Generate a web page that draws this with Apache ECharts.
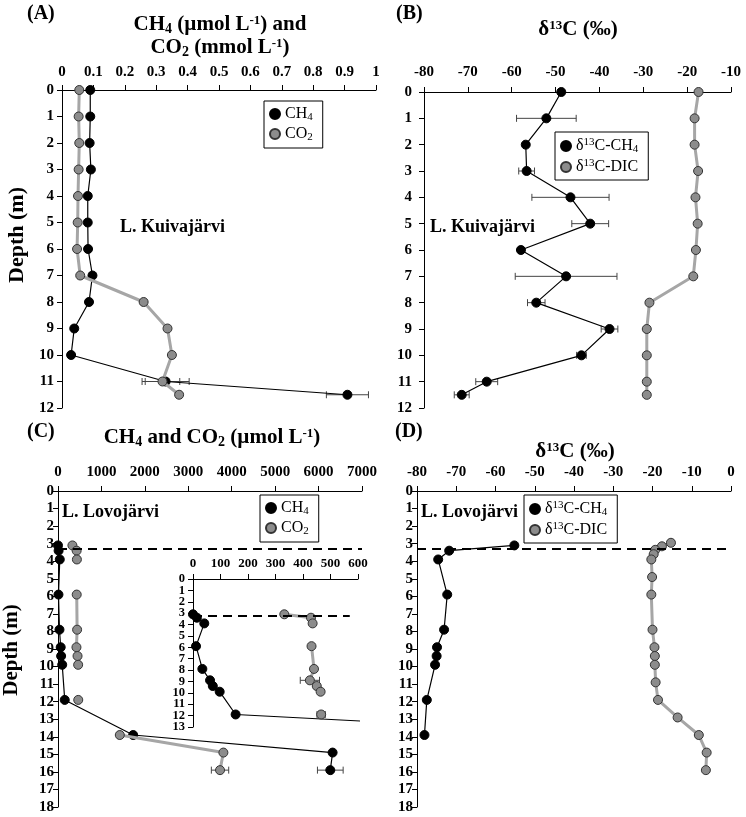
<!DOCTYPE html>
<html><head><meta charset="utf-8">
<script src="https://cdn.jsdelivr.net/npm/echarts@6/dist/echarts.min.js"></script>
<style>html,body{margin:0;padding:0;background:#fff}#c{width:746px;height:817px}</style>
</head><body><div id="c"></div>
<script>
// ---------- DATA ----------
// Panel A / B : L. Kuivajärvi
const depthK = [0,1,2,3,4,5,6,7,8,9,10,11,11.5];
const kCH4 = [0.09,0.09,0.088,0.092,0.082,0.082,0.083,0.097,0.086,0.039,0.029,0.33,0.909];
const kCH4err = [0,0,0,0,0,0.008,0,0,0,0,0,0.075,0.067];
const kCO2 = [0.055,0.053,0.055,0.053,0.051,0.05,0.048,0.058,0.26,0.336,0.35,0.32,0.373];
const kCO2err = [0,0,0,0,0,0,0,0,0,0,0,0.055,0];
const kD13CH4 = [-48.7,-52.1,-56.8,-56.6,-46.6,-42.1,-57.9,-47.6,-54.4,-37.7,-44.1,-65.7,-71.4];
const kD13CH4err = [0,6.8,0,1.8,8.8,4.2,0,11.6,2,1.9,1.1,2.5,1.7];
const kD13DIC = [-17.4,-18.3,-18.3,-17.5,-18.1,-17.6,-18.0,-18.6,-28.6,-29.2,-29.2,-29.2,-29.2];
// Panel C / D : L. Lovojärvi
const depthL = [3.1,3.4,3.9,5.9,7.9,8.9,9.4,9.9,11.9,13.9,14.9,15.9];
const lCH4 = [0,14,41,11,34,62,72,97,155,1731,6323,6270];
const lCH4err = [0,0,0,0,0,0,0,0,0,0,0,296];
const lCO2 = [332,429,435,431,440,425,450,464,466,1423,3808,3731];
const lCO2err = [0,0,0,0,0,35,0,0,15,0,0,200];
const lCO2breaks = [3,8,9];
const depthLD13CH4 = [3.1,3.4,3.9,5.9,7.9,8.9,9.4,9.9,11.9,13.9];
const lD13CH4 = [-55.2,-71.8,-74.6,-72.3,-73.1,-74.9,-75.0,-75.4,-77.5,-78.1];
const depthLDIC = [2.95,3.15,3.35,3.6,3.9,4.9,5.9,7.9,8.9,9.4,9.9,10.9,11.9,12.9,13.9,14.9,15.9];
const lD13DIC = [-15.3,-17.6,-19.3,-19.7,-20.3,-20.1,-20.3,-20.0,-19.5,-19.4,-19.4,-19.2,-18.6,-13.6,-8.2,-6.2,-6.4];
const oxicDepth = 3.3;
const insetOxicDepth = 3.25;
const insetOxicEnd = 570;
// inset depth tick labels
const insetDepthTicks = [0,1,2,3,4,5,6,7,8,9,10,11,12,13];

// ---------- HELPERS ----------
const FONT = '"Liberation Serif", "Times New Roman", serif';
const plain = v => String(Math.round(v * 1000) / 1000);
function pts(xs, ys, breaks) {
  const out = [];
  xs.forEach((x, i) => { if (breaks && breaks.includes(i)) out.push(['-','-']); out.push([x, ys[i]]); });
  return out;
}
function errs(vals, depths, e) {
  return vals.map((v, i) => [v, depths[i], e[i]]).filter(d => d[2] > 0);
}
function xAxis(g, min, max, interval, margin, fs) {
  return { gridIndex: g, type: 'value', position: 'top', min, max, interval,
    axisLine: { show: true, onZero: false, lineStyle: { color: '#000', width: 1 } },
    axisTick: { show: true, length: 5, lineStyle: { color: '#000' } },
    splitLine: { show: false },
    axisLabel: { margin, showMinLabel: true, showMaxLabel: true, hideOverlap: false, formatter: plain,
      color: '#000', fontFamily: FONT, fontWeight: 'bold', fontSize: fs || 15 } };
}
function yAxis(g, max, margin, fs, hideLabels) {
  return { gridIndex: g, type: 'value', inverse: true, min: 0, max, interval: 1,
    axisLine: { show: true, onZero: false, lineStyle: { color: '#000', width: 1 } },
    axisTick: { show: true, length: 5, lineStyle: { color: '#000' } },
    splitLine: { show: false },
    axisLabel: { show: !hideLabels, margin, showMinLabel: true, showMaxLabel: true, hideOverlap: false, formatter: plain,
      color: '#000', fontFamily: FONT, fontWeight: 'bold', fontSize: fs || 15 } };
}
function blackLine(name, ax, data, extra) {
  return Object.assign({ name, type: 'line', xAxisIndex: ax, yAxisIndex: ax, data, z: 3,
    symbol: 'circle', symbolSize: 9, showSymbol: true, connectNulls: false,
    itemStyle: { color: '#000', borderColor: '#000', borderWidth: 1 },
    lineStyle: { color: '#000', width: 1.2 } }, extra || {});
}
function grayLine(name, ax, data, extra) {
  return Object.assign({ name, type: 'line', xAxisIndex: ax, yAxisIndex: ax, data, z: 4,
    symbol: 'circle', symbolSize: 9, showSymbol: true, connectNulls: false,
    itemStyle: { color: '#8c8c8c', borderColor: '#333', borderWidth: 1 },
    lineStyle: { color: '#a6a6a6', width: 3 } }, extra || {});
}
function errSeries(ax, data) {
  return { type: 'custom', xAxisIndex: ax, yAxisIndex: ax, data, z: 2, silent: true,
    encode: { x: 0, y: 1 },
    renderItem: function (params, api) {
      const v = api.value(0), d = api.value(1), e = api.value(2);
      const p1 = api.coord([v - e, d]), p2 = api.coord([v + e, d]);
      const h = 3.5, st = { stroke: '#444', lineWidth: 1 };
      return { type: 'group', children: [
        { type: 'line', shape: { x1: p1[0], y1: p1[1], x2: p2[0], y2: p2[1] }, style: st },
        { type: 'line', shape: { x1: p1[0], y1: p1[1] - h, x2: p1[0], y2: p1[1] + h }, style: st },
        { type: 'line', shape: { x1: p2[0], y1: p2[1] - h, x2: p2[0], y2: p2[1] + h }, style: st }
      ] };
    } };
}
// axis tick labels for the inset depth axis (drawn via the axis scale, so none get auto-hidden)
function tickLabelSeries(ax, ticks) {
  return { type: 'custom', xAxisIndex: ax, yAxisIndex: ax, data: ticks.map(t => [0, t]), z: 5, silent: true,
    clip: false, encode: { x: 0, y: 1 },
    renderItem: function (params, api) {
      const p = api.coord([0, api.value(1)]);
      return { type: 'text', x: p[0] - 8, y: p[1],
        style: { text: String(api.value(1)), fill: '#000', font: 'bold 12.5px ' + FONT,
          textAlign: 'right', align: 'right', textVerticalAlign: 'middle', verticalAlign: 'middle' } };
    } };
}
const dash = { silent: true, symbol: 'none', label: { show: false },
  lineStyle: { type: [9, 6], color: '#000', width: 2 } };

const legendNames = {
  A_CH4: 'CH{s|4}', A_CO2: 'CO{s|2}', C_CH4: 'CH{s|4}', C_CO2: 'CO{s|2}',
  B_CH4: 'δ{p|13}C-CH{s|4}', B_DIC: 'δ{p|13}C-DIC', D_CH4: 'δ{p|13}C-CH{s|4}', D_DIC: 'δ{p|13}C-DIC'
};
function legend(names, left, top) {
  return { data: names, left, top, orient: 'vertical', icon: 'circle', itemWidth: 10, itemHeight: 10,
    itemGap: 3, padding: [5, 10, 5, 5], borderColor: '#000', borderWidth: 1, backgroundColor: '#fff',
    selectedMode: false, formatter: n => legendNames[n],
    textStyle: { color: '#000', fontFamily: FONT, fontSize: 16,
      rich: { s: { fontFamily: FONT, fontSize: 11, color: '#000', padding: [7, 0, 0, 0] },
              p: { fontFamily: FONT, fontSize: 11, color: '#000', padding: [0, 0, 7, 0] } } } };
}
const richT = { s: { fontFamily: FONT, fontWeight: 'bold', fontSize: 14, fill: '#000', padding: [9, 0, 0, 0] },
                p: { fontFamily: FONT, fontWeight: 'bold', fontSize: 13, fill: '#000', padding: [0, 0, 9, 0] } };
function txt(text, x, y, size, align, rot) {
  return { type: 'text', x, y, rotation: rot || 0, z: 10,
    style: { text, fill: '#000', font: 'bold ' + size + 'px ' + FONT, rich: richT,
      textAlign: align || 'left', align: align || 'left', textVerticalAlign: 'middle', verticalAlign: 'middle' } };
}

// ---------- CHART ----------
const chart = echarts.init(document.getElementById('c'), null, { renderer: 'canvas' });
chart.setOption({
  animation: false,
  backgroundColor: '#fff',
  grid: [
    { left: 62, top: 90, width: 314, height: 318, outerBoundsMode: 'none' },
    { left: 424, top: 92, width: 307, height: 316, outerBoundsMode: 'none' },
    { left: 58, top: 491, width: 304, height: 316, outerBoundsMode: 'none' },
    { left: 417, top: 491, width: 314, height: 316, outerBoundsMode: 'none' },
    { left: 193, top: 579, width: 165, height: 148, outerBoundsMode: 'none' }
  ],
  xAxis: [
    xAxis(0, 0, 1, 0.1, 10),
    xAxis(1, -80, -10, 10, 12),
    xAxis(2, 0, 7000, 1000, 11),
    xAxis(3, -80, 0, 10, 11),
    xAxis(4, 0, 600, 100, 9, 13)
  ],
  yAxis: [
    yAxis(0, 12, 8),
    yAxis(1, 12, 12),
    yAxis(2, 18, 4),
    yAxis(3, 18, 4),
    yAxis(4, 13, 8, 12.5, true)
  ],
  legend: [
    legend(['A_CH4', 'A_CO2'], 264, 101),
    legend(['B_CH4', 'B_DIC'], 555, 132),
    legend(['C_CH4', 'C_CO2'], 260, 495),
    legend(['D_CH4', 'D_DIC'], 524, 495)
  ],
  graphic: [
    txt('(A)', 27, 14, 20), txt('(B)', 396, 14, 20), txt('(C)', 27, 432, 20), txt('(D)', 395, 432, 20),
    txt('CH{s|4} (µmol L{p|-1}) and', 220, 25, 21, 'center'),
    txt('CO{s|2} (mmol L{p|-1})', 220, 48, 21, 'center'),
    txt('δ{p|13}C (‰)', 578, 30, 21, 'center'),
    txt('CH{s|4} and CO{s|2} (µmol L{p|-1})', 212, 438, 21, 'center'),
    txt('δ{p|13}C (‰)', 575, 452, 21, 'center'),
    txt('L. Kuivajärvi', 120, 227, 18), txt('L. Kuivajärvi', 430, 227, 18),
    txt('L. Lovojärvi', 62, 512, 18), txt('L. Lovojärvi', 421, 512, 18),
    txt('Depth (m)', 17, 235, 22, 'center', Math.PI / 2),
    txt('Depth (m)', 12, 650, 21, 'center', Math.PI / 2)
  ],
  series: [
    errSeries(0, errs(kCH4, depthK, kCH4err)),
    errSeries(0, errs(kCO2, depthK, kCO2err)),
    blackLine('A_CH4', 0, pts(kCH4, depthK)),
    grayLine('A_CO2', 0, pts(kCO2, depthK)),

    errSeries(1, errs(kD13CH4, depthK, kD13CH4err)),
    blackLine('B_CH4', 1, pts(kD13CH4, depthK)),
    grayLine('B_DIC', 1, pts(kD13DIC, depthK)),

    errSeries(2, errs(lCH4, depthL, lCH4err)),
    errSeries(2, errs(lCO2, depthL, lCO2err)),
    blackLine('C_CH4', 2, pts(lCH4, depthL), { markLine: Object.assign({ data: [{ yAxis: oxicDepth }] }, dash) }),
    grayLine('C_CO2', 2, pts(lCO2, depthL, lCO2breaks)),

    blackLine('D_CH4', 3, pts(lD13CH4, depthLD13CH4), { markLine: Object.assign({ data: [{ yAxis: oxicDepth }] }, dash) }),
    grayLine('D_DIC', 3, pts(lD13DIC, depthLDIC)),

    errSeries(4, errs(lCH4, depthL, lCH4err)),
    errSeries(4, errs(lCO2, depthL, lCO2err)),
    blackLine('I_CH4', 4, pts(lCH4, depthL), { markLine: Object.assign({ data: [[{ coord: [0, insetOxicDepth] }, { coord: [insetOxicEnd, insetOxicDepth] }]] }, dash) }),
    grayLine('I_CO2', 4, pts(lCO2, depthL, lCO2breaks)),
    tickLabelSeries(4, insetDepthTicks)
  ]
});
</script>
</body></html>
